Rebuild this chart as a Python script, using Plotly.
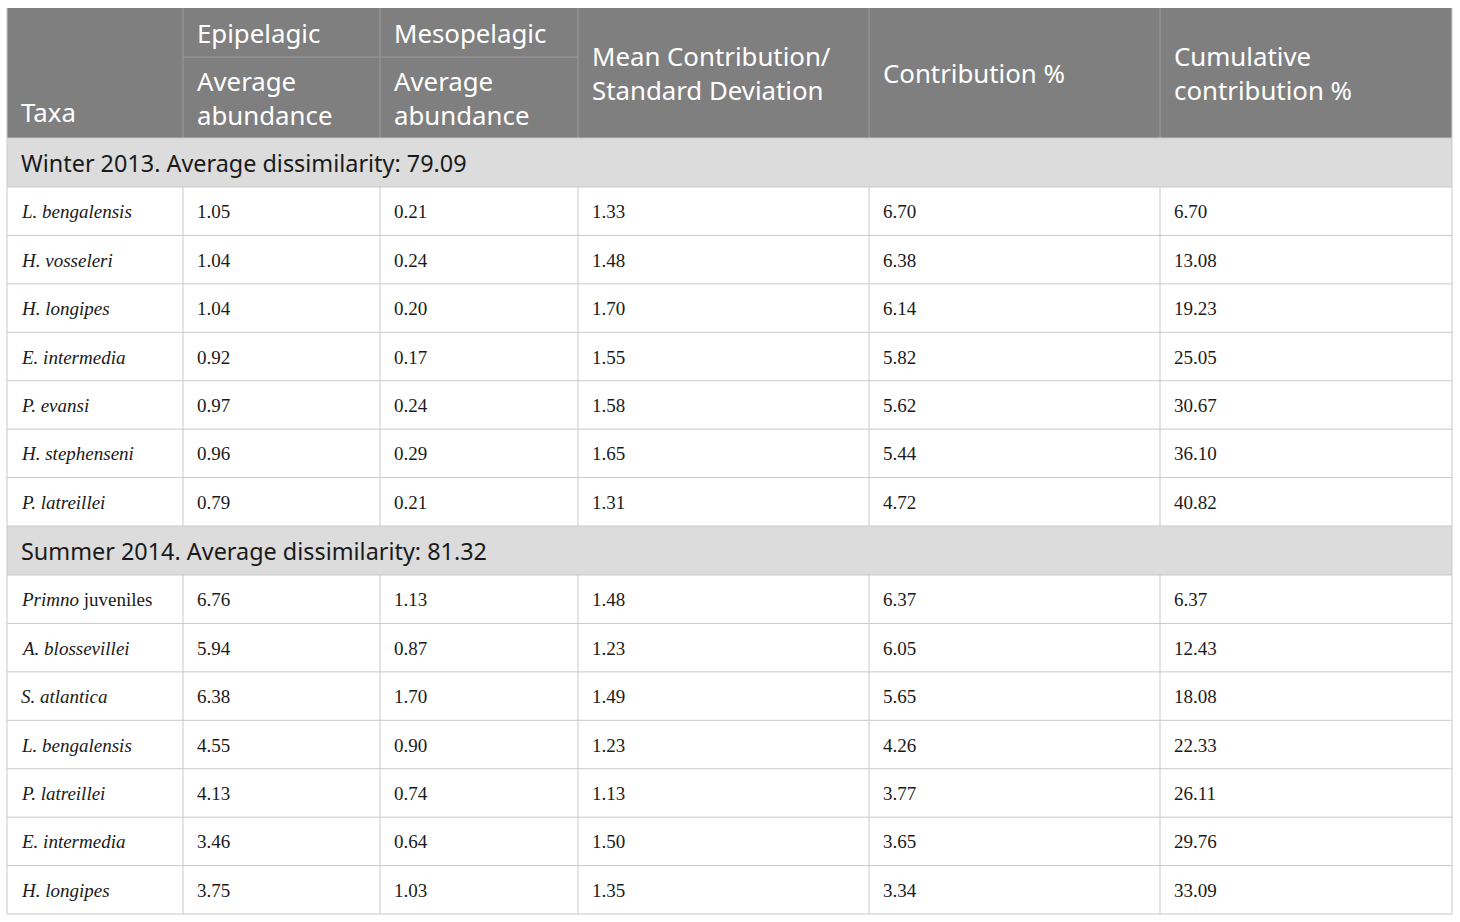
import plotly.graph_objects as go

# ---------------- data ----------------
column_headers = ["Taxa", "Epipelagic", "Mesopelagic", "Mean Contribution/<br>Standard Deviation",
                  "Contribution %", "Cumulative<br>contribution %"]
sub_header = "Average<br>abundance"

winter_title = "Winter 2013. Average dissimilarity: 79.09"
winter_taxa = ["<i>L. bengalensis</i>", "<i>H. vosseleri</i>", "<i>H. longipes</i>", "<i>E. intermedia</i>",
               "<i>P. evansi</i>", "<i>H. stephenseni</i>", "<i>P. latreillei</i>"]
winter_epi = [1.05, 1.04, 1.04, 0.92, 0.97, 0.96, 0.79]
winter_meso = [0.21, 0.24, 0.20, 0.17, 0.24, 0.29, 0.21]
winter_ratio = [1.33, 1.48, 1.70, 1.55, 1.58, 1.65, 1.31]
winter_contrib = [6.70, 6.38, 6.14, 5.82, 5.62, 5.44, 4.72]
winter_cum = [6.70, 13.08, 19.23, 25.05, 30.67, 36.10, 40.82]

summer_title = "Summer 2014. Average dissimilarity: 81.32"
summer_taxa = ["<i>Primno</i> juveniles", "<i>A. blossevillei</i>", "<i>S. atlantica</i>", "<i>L. bengalensis</i>",
               "<i>P. latreillei</i>", "<i>E. intermedia</i>", "<i>H. longipes</i>"]
summer_epi = [6.76, 5.94, 6.38, 4.55, 4.13, 3.46, 3.75]
summer_meso = [1.13, 0.87, 1.70, 0.90, 0.74, 0.64, 1.03]
summer_ratio = [1.48, 1.23, 1.49, 1.23, 1.13, 1.50, 1.35]
summer_contrib = [6.37, 6.05, 5.65, 4.26, 3.77, 3.65, 3.34]
summer_cum = [6.37, 12.43, 18.08, 22.33, 26.11, 29.76, 33.09]

# ---------------- layout geometry ----------------
W, H = 1460, 922
col_edges = [7, 183, 380, 578, 869, 1160, 1452]
top = 8
header_h = 130
split_h = 49
group_h = 49
row_h = 48.43
pad = 12

HEADER_BG = "#7f7f7f"
HEADER_LINE = "#9b9b9b"
GROUP_BG = "#dcdcdc"
GRID = "#c9c9c9"
SANS = "Noto Sans"
SERIF = "Liberation Serif"
TEXT = "#1a1a1a"
HSIZE = 25.8
GSIZE = 23.4
BSIZE = 19

fig = go.Figure()
shapes = []
annotations = []


def rect(x0, y0, x1, y1, fill):
    shapes.append(dict(type="rect", xref="x", yref="y", x0=x0, y0=y0, x1=x1, y1=y1,
                       fillcolor=fill, line=dict(width=0), layer="below"))


def line(x0, y0, x1, y1, color, width=1):
    shapes.append(dict(type="line", xref="x", yref="y", x0=x0, y0=y0, x1=x1, y1=y1,
                       line=dict(color=color, width=width)))


def text(x, y, s, font, size, color):
    annotations.append(dict(x=x, y=y, xref="x", yref="y", text=s, showarrow=False,
                            xanchor="left", yanchor="middle", align="left",
                            font=dict(family=font, size=size, color=color)))


L, R = col_edges[0], col_edges[-1]

# header
hb = top + header_h
rect(L, top, R, hb, HEADER_BG)
for xe in col_edges[1:-1]:
    line(xe, top, xe, hb, HEADER_LINE)
line(col_edges[1], top + split_h, col_edges[3], top + split_h, HEADER_LINE)

text(L + pad, hb - 26, column_headers[0], SANS, HSIZE, "white")
text(col_edges[1] + pad, top + split_h / 2, column_headers[1], SANS, HSIZE, "white")
text(col_edges[2] + pad, top + split_h / 2, column_headers[2], SANS, HSIZE, "white")
sub_mid = top + split_h + (header_h - split_h) / 2
text(col_edges[1] + pad, sub_mid, sub_header, SANS, HSIZE, "white")
text(col_edges[2] + pad, sub_mid, sub_header, SANS, HSIZE, "white")
for ci in (3, 4, 5):
    text(col_edges[ci] + pad, top + header_h / 2, column_headers[ci], SANS, HSIZE, "white")

# body
y = hb
groups = [
    (winter_title, winter_taxa, winter_epi, winter_meso, winter_ratio, winter_contrib, winter_cum),
    (summer_title, summer_taxa, summer_epi, summer_meso, summer_ratio, summer_contrib, summer_cum),
]
hlines = [hb]
for title, taxa, epi, meso, ratio, contrib, cum in groups:
    rect(L, y, R, y + group_h, GROUP_BG)
    text(L + pad, y + group_h / 2, title, SANS, GSIZE, TEXT)
    hlines.append(y + group_h)
    y += group_h
    for i in range(len(taxa)):
        cells = [taxa[i]] + [f"{v[i]:.2f}" for v in (epi, meso, ratio, contrib, cum)]
        for ci, s in enumerate(cells):
            text(col_edges[ci] + pad, y + row_h / 2 + 0.5, s, SERIF, BSIZE, TEXT)
        for xe in col_edges[1:-1]:
            line(xe, y, xe, y + row_h, GRID)
        y += row_h
        hlines.append(y)
for hy in hlines:
    line(L, hy, R, hy, GRID)
line(L, top, L, y, GRID)
line(R, top, R, y, GRID)

fig.update_layout(
    width=W, height=H,
    margin=dict(l=0, r=0, t=0, b=0),
    paper_bgcolor="white", plot_bgcolor="white",
    xaxis=dict(range=[0, W], visible=False, fixedrange=True),
    yaxis=dict(range=[H, 0], visible=False, fixedrange=True),
    shapes=shapes, annotations=annotations, showlegend=False,
)
fig.write_html("out.html", config={"displayModeBar": False},
               post_script="document.body.style.margin='0px';document.body.style.overflow='hidden';")
